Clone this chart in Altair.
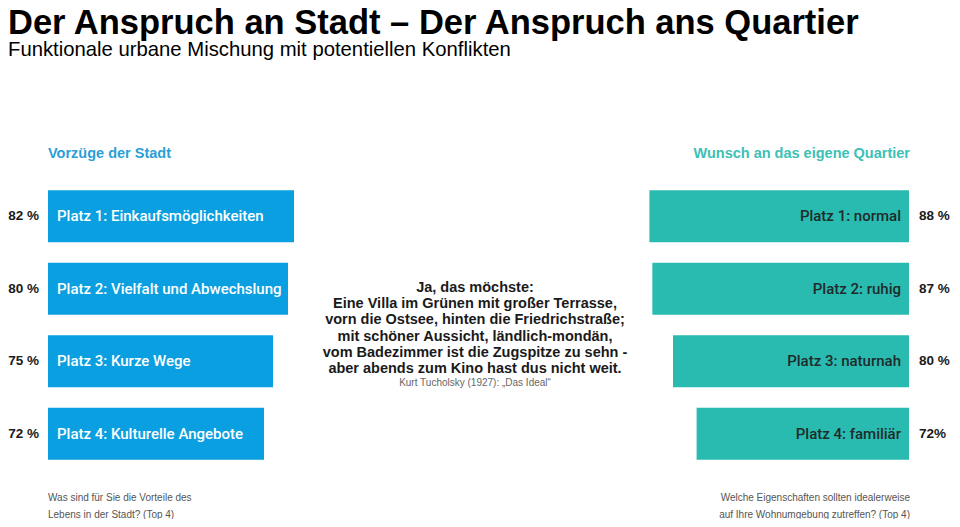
import altair as alt
import pandas as pd

# ---------------- data ----------------
title_text = "Der Anspruch an Stadt – Der Anspruch ans Quartier"
subtitle_text = "Funktionale urbane Mischung mit potentiellen Konflikten"

ranks = [1, 2, 3, 4]
left_labels = [
    "Platz 1: Einkaufsmöglichkeiten",
    "Platz 2: Vielfalt und Abwechslung",
    "Platz 3: Kurze Wege",
    "Platz 4: Kulturelle Angebote",
]
left_values = [82, 80, 75, 72]
left_pct = ["82 %", "80 %", "75 %", "72 %"]

right_labels = [
    "Platz 1: normal",
    "Platz 2: ruhig",
    "Platz 3: naturnah",
    "Platz 4: familiär",
]
right_values = [88, 87, 80, 72]
right_pct = ["88 %", "87 %", "80 %", "72%"]

left_header = "Vorzüge der Stadt"
right_header = "Wunsch an das eigene Quartier"

quote_lines = [
    "Ja, das möchste:",
    "Eine Villa im Grünen mit großer Terrasse,",
    "vorn die Ostsee, hinten die Friedrichstraße;",
    "mit schöner Aussicht, ländlich-mondän,",
    "vom Badezimmer ist die Zugspitze zu sehn -",
    "aber abends zum Kino hast dus nicht weit.",
]
quote_source = "Kurt Tucholsky (1927): „Das Ideal“"

left_footer = ["Was sind für Sie die Vorteile des", "Lebens in der Stadt? (Top 4)"]
right_footer = ["Welche Eigenschaften sollten idealerweise", "auf Ihre Wohnumgebung zutreffen? (Top 4)"]

# ---------------- styling ----------------
BLUE = "#0a9fe1"
TEAL = "#29bbb0"
BLUE_HEAD = "#2b9fd6"
TEAL_HEAD = "#3dc0b5"
FONT = "Liberation Sans"
LABEL_FONT = "Roboto"

df = pd.DataFrame({
    "rank": ranks,
    "left_label": left_labels,
    "left_value": left_values,
    "left_pct": left_pct,
    "right_label": right_labels,
    "right_value": right_values,
    "right_pct": right_pct,
})
df["zero"] = 0
one = pd.DataFrame({"k": [0]})

yscale = alt.Scale(domain=ranks, range=[172, 462], paddingInner=0.283, paddingOuter=0.1415)
Y = alt.Y("rank:O", scale=yscale, axis=None)
xl = alt.Scale(domain=[0, 100], range=[40, 340])
xr = alt.Scale(domain=[0, 100], range=[901, 606])

base = alt.Chart(df)

left_bars = base.mark_bar(color=BLUE).encode(
    x=alt.X("left_value:Q", scale=xl, axis=None), y=Y)
right_bars = base.mark_bar(color=TEAL).encode(
    x=alt.X("right_value:Q", scale=xr, axis=None), y=Y)

left_bar_text = base.mark_text(
    align="left", baseline="middle", dx=9, color="white",
    font=LABEL_FONT, fontSize=15, fontWeight=500,
).encode(x=alt.X("zero:Q", scale=xl, axis=None), y=Y, text="left_label:N")

left_pct_text = base.mark_text(
    align="right", baseline="middle", dx=-9, color="#1a1a1a",
    font=FONT, fontSize=13.5, fontWeight="bold",
).encode(x=alt.X("zero:Q", scale=xl, axis=None), y=Y, text="left_pct:N")

right_bar_text = base.mark_text(
    align="right", baseline="middle", dx=-8, color="#1e2b2b",
    font=LABEL_FONT, fontSize=15, fontWeight=500,
).encode(x=alt.X("zero:Q", scale=xr, axis=None), y=Y, text="right_label:N")

right_pct_text = base.mark_text(
    align="left", baseline="middle", dx=10, color="#1a1a1a",
    font=FONT, fontSize=13.5, fontWeight="bold",
).encode(x=alt.X("zero:Q", scale=xr, axis=None), y=Y, text="right_pct:N")


def label(text, x, y, **kw):
    return alt.Chart(one).mark_text(text=text, **kw).encode(
        x=alt.value(x), y=alt.value(y))


title = label(title_text, 0, 26, align="left", baseline="alphabetic",
              font=FONT, fontSize=34.5, fontWeight="bold", color="black")
subtitle = label(subtitle_text, 0, 48, align="left", baseline="alphabetic",
                 font=FONT, fontSize=20.3, color="black")

lh = label(left_header, 40, 146, align="left", baseline="middle",
           font=FONT, fontSize=14.5, fontWeight="bold", color=BLUE_HEAD)
rh = label(right_header, 902, 146, align="right", baseline="middle",
           font=FONT, fontSize=14.5, fontWeight="bold", color=TEAL_HEAD)

quote = label(quote_lines, 467, 280, align="center", baseline="middle",
              font=FONT, fontSize=14.5, fontWeight="bold", color="#1a1a1a",
              lineHeight=16.2)
source = label(quote_source, 467, 375, align="center", baseline="middle",
               font=FONT, fontSize=10, color="#666666")

lf = label(left_footer, 40, 490, align="left", baseline="middle",
           font=FONT, fontSize=10, color="#555555", lineHeight=16.5)
rf = label(right_footer, 902, 490, align="right", baseline="middle",
           font=FONT, fontSize=10, color="#555555", lineHeight=16.5)

chart = alt.layer(
    left_bars, right_bars, left_bar_text, left_pct_text, right_bar_text, right_pct_text,
    title, subtitle, lh, rh, quote, source, lf, rf,
).resolve_scale(x="independent").properties(
    width=944, height=511, autosize=alt.AutoSizeParams(type="none"), padding=0,
    background="white",
).configure_view(stroke=None)

chart.save("out.html", embed_options={"renderer": "svg", "actions": False})
